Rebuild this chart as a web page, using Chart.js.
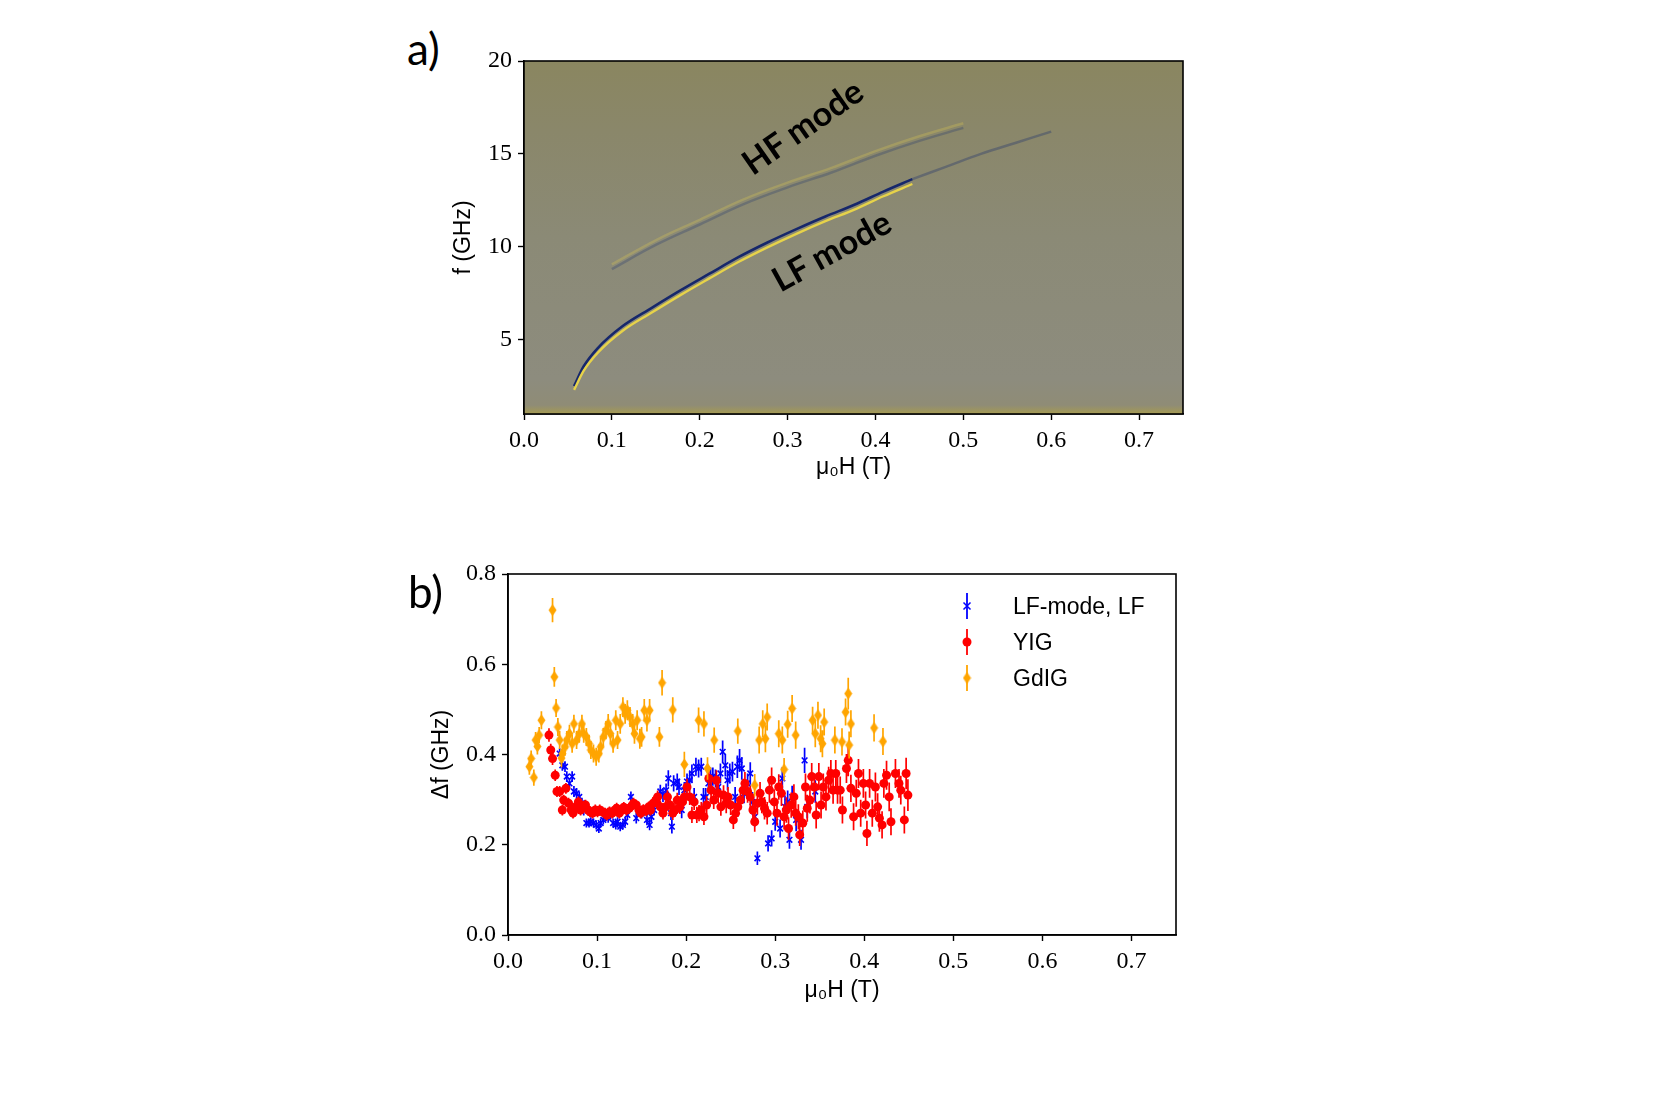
<!DOCTYPE html>
<html><head><meta charset="utf-8">
<script src="https://cdn.jsdelivr.net/npm/chart.js@4.4.1/dist/chart.umd.min.js"></script>
<style>
html,body{margin:0;padding:0;background:#fff;width:1666px;height:1094px;overflow:hidden;position:relative}
canvas{position:absolute}
.lbl{position:absolute;font-family:Lato,'Open Sans',sans-serif;color:#000;white-space:nowrap;line-height:1}
.rot{position:absolute;font-family:Lato,'Open Sans',sans-serif;font-weight:700;color:#000;white-space:nowrap;line-height:1}
.leg{position:absolute;font-family:'Liberation Sans',Arial,sans-serif;font-size:23px;line-height:1;color:#000;white-space:nowrap}
</style></head><body>
<canvas id="ca" width="750" height="451" style="left:450px;top:30px"></canvas>
<canvas id="cb" width="767" height="454" style="left:428px;top:550px"></canvas>
<div class="lbl" style="left:407px;top:26px;font-size:44px">a)</div>
<div class="lbl" style="left:408px;top:569px;font-size:44px">b)</div>
<div class="rot" style="left:802px;top:126px;font-size:34px;transform:translate(-50%,-50%) rotate(-35deg)">HF mode</div>
<div class="rot" style="left:831px;top:250px;font-size:34px;transform:translate(-50%,-50%) rotate(-29deg)">LF mode</div>
<div class="leg" style="left:1013px;top:595px">LF-mode, LF</div>
<div class="leg" style="left:1013px;top:631px">YIG</div>
<div class="leg" style="left:1013px;top:667px">GdIG</div>
<script>
const aXTicks = [0.0,0.1,0.2,0.3,0.4,0.5,0.6,0.7];
const aYTicks = [5,10,15,20];
const lfModeField = [0.057,0.068,0.084,0.112,0.145,0.178,0.211,0.244,0.277,0.310,0.343,0.376,0.409,0.442];
const lfModeFreq  = [2.5,3.57,4.55,5.72,6.70,7.65,8.55,9.44,10.23,10.95,11.63,12.26,12.97,13.64];
const lfEdgeFreq  = [2.3,3.33,4.3,5.47,6.45,7.4,8.3,9.18,9.97,10.7,11.38,12.0,12.72,13.38];
const lfTailField = [0.442,0.48,0.52,0.56,0.60];
const lfTailFreq  = [13.64,14.3,15.0,15.6,16.2];
const hfModeField = [0.10,0.15,0.20,0.25,0.30,0.35,0.40,0.45,0.50];
const hfModeFreq  = [8.8,10.1,11.2,12.3,13.2,14.0,14.9,15.7,16.4];
const hfEdgeFreq  = [9.05,10.35,11.45,12.55,13.45,14.25,15.15,15.95,16.65];

// ---------- Panel b data: [field (T), linewidth (GHz), error (GHz)] ----------
const bXTicks = [0.0,0.1,0.2,0.3,0.4,0.5,0.6,0.7];
const bYTicks = [0.0,0.2,0.4,0.6,0.8];
const lfModeLF = [
[0.058,0.402,0.012],[0.061,0.376,0.012],[0.064,0.373,0.012],[0.066,0.351,0.012],[0.069,0.336,0.012],[0.072,0.351,0.012],
[0.074,0.318,0.012],[0.077,0.314,0.012],[0.080,0.306,0.012],[0.083,0.292,0.012],[0.085,0.277,0.012],[0.088,0.248,0.01],
[0.091,0.248,0.01],[0.093,0.251,0.01],[0.096,0.248,0.01],[0.099,0.244,0.01],[0.102,0.236,0.01],[0.104,0.248,0.01],
[0.107,0.255,0.01],[0.110,0.262,0.01],[0.1125,0.259,0.01],[0.115,0.266,0.01],[0.118,0.248,0.01],[0.121,0.244,0.01],
[0.123,0.251,0.01],[0.126,0.240,0.01],[0.129,0.244,0.01],[0.1315,0.251,0.01],[0.134,0.266,0.01],[0.138,0.306,0.012],
[0.144,0.259,0.012],[0.150,0.270,0.012],[0.156,0.255,0.012],[0.159,0.244,0.012],[0.161,0.262,0.012],[0.164,0.277,0.012],
[0.168,0.299,0.015],[0.171,0.318,0.015],[0.174,0.310,0.015],[0.1775,0.321,0.015],[0.180,0.347,0.018],[0.183,0.270,0.015],
[0.184,0.240,0.015],[0.186,0.336,0.018],[0.190,0.340,0.018],[0.192,0.328,0.018],[0.195,0.277,0.018],[0.198,0.321,0.018],
[0.201,0.340,0.018],[0.204,0.343,0.018],[0.2065,0.358,0.02],[0.209,0.306,0.02],[0.211,0.373,0.02],[0.214,0.369,0.02],
[0.217,0.373,0.02],[0.2195,0.306,0.02],[0.222,0.306,0.02],[0.225,0.336,0.02],[0.2275,0.351,0.02],[0.230,0.351,0.02],
[0.233,0.347,0.02],[0.236,0.328,0.02],[0.2385,0.358,0.022],[0.241,0.406,0.025],[0.244,0.376,0.025],[0.2465,0.343,0.022],
[0.249,0.358,0.022],[0.252,0.362,0.022],[0.255,0.306,0.022],[0.2575,0.373,0.025],[0.260,0.387,0.025],[0.2625,0.369,0.025],
[0.265,0.314,0.022],[0.269,0.336,0.022],[0.272,0.358,0.025],[0.2745,0.295,0.022],[0.277,0.262,0.022],[0.280,0.170,0.015],
[0.292,0.203,0.018],[0.296,0.214,0.018],[0.300,0.251,0.02],[0.3055,0.236,0.02],[0.308,0.347,0.025],[0.311,0.284,0.025],
[0.314,0.295,0.025],[0.316,0.211,0.02],[0.319,0.306,0.025],[0.3235,0.255,0.025],[0.329,0.211,0.022],[0.333,0.387,0.028],
[0.336,0.284,0.025],[0.345,0.318,0.025]
];
const yig = [
[0.046,0.443,0.015],[0.048,0.410,0.014],[0.050,0.391,0.014],[0.053,0.354,0.013],[0.055,0.318,0.012],[0.058,0.318,0.012],
[0.061,0.277,0.012],[0.0625,0.299,0.012],[0.065,0.325,0.012],[0.068,0.292,0.012],[0.071,0.277,0.012],[0.073,0.270,0.012],
[0.076,0.284,0.012],[0.079,0.295,0.012],[0.0815,0.277,0.012],[0.084,0.284,0.012],[0.087,0.288,0.012],[0.090,0.277,0.012],
[0.092,0.273,0.012],[0.095,0.270,0.012],[0.098,0.277,0.012],[0.1005,0.273,0.012],[0.103,0.277,0.012],[0.106,0.273,0.012],
[0.109,0.270,0.012],[0.111,0.266,0.012],[0.114,0.273,0.012],[0.117,0.270,0.012],[0.120,0.277,0.012],[0.122,0.281,0.012],
[0.125,0.270,0.012],[0.128,0.277,0.012],[0.130,0.283,0.012],[0.133,0.277,0.012],[0.136,0.281,0.012],[0.139,0.286,0.012],
[0.141,0.292,0.012],[0.144,0.288,0.012],[0.147,0.277,0.012],[0.149,0.270,0.012],[0.152,0.278,0.012],[0.155,0.275,0.012],
[0.158,0.284,0.012],[0.160,0.277,0.012],[0.163,0.292,0.014],[0.166,0.299,0.014],[0.168,0.306,0.014],[0.171,0.284,0.014],
[0.174,0.270,0.014],[0.177,0.284,0.014],[0.179,0.306,0.015],[0.182,0.288,0.015],[0.185,0.270,0.015],[0.1875,0.277,0.015],
[0.190,0.299,0.016],[0.193,0.284,0.016],[0.196,0.295,0.016],[0.198,0.306,0.016],[0.201,0.328,0.018],[0.204,0.306,0.018],
[0.2065,0.266,0.018],[0.209,0.295,0.018],[0.212,0.266,0.018],[0.2145,0.270,0.018],[0.217,0.277,0.018],[0.220,0.262,0.018],
[0.223,0.288,0.02],[0.2255,0.347,0.022],[0.228,0.321,0.022],[0.231,0.299,0.02],[0.234,0.343,0.022],[0.236,0.314,0.022],
[0.239,0.284,0.02],[0.242,0.310,0.022],[0.245,0.292,0.022],[0.247,0.306,0.022],[0.250,0.288,0.022],[0.253,0.255,0.02],
[0.2555,0.270,0.022],[0.258,0.284,0.022],[0.261,0.299,0.022],[0.264,0.321,0.025],[0.266,0.336,0.025],[0.269,0.318,0.025],
[0.272,0.306,0.025],[0.275,0.277,0.025],[0.277,0.251,0.022],[0.280,0.292,0.025],[0.283,0.314,0.025],[0.285,0.295,0.025],
[0.288,0.281,0.025],[0.291,0.270,0.025],[0.2935,0.321,0.028],[0.296,0.343,0.028],[0.299,0.295,0.028],[0.302,0.270,0.028],
[0.304,0.328,0.028],[0.307,0.314,0.028],[0.310,0.262,0.028],[0.3125,0.277,0.028],[0.315,0.236,0.025],[0.318,0.288,0.028],
[0.321,0.306,0.028],[0.323,0.270,0.028],[0.326,0.262,0.028],[0.3275,0.222,0.025],[0.331,0.248,0.028],[0.334,0.328,0.03],
[0.336,0.281,0.03],[0.339,0.299,0.03],[0.341,0.351,0.03],[0.344,0.328,0.03],[0.346,0.266,0.03],[0.349,0.351,0.03],
[0.3515,0.288,0.03],[0.354,0.328,0.03],[0.357,0.306,0.03],[0.360,0.343,0.03],[0.3625,0.358,0.03],[0.365,0.321,0.03],
[0.368,0.358,0.03],[0.370,0.321,0.03],[0.373,0.321,0.03],[0.3755,0.277,0.03],[0.380,0.369,0.032],[0.382,0.387,0.035],
[0.385,0.325,0.03],[0.388,0.262,0.03],[0.391,0.314,0.03],[0.3935,0.358,0.032],[0.396,0.270,0.03],[0.399,0.336,0.032],
[0.4015,0.288,0.03],[0.403,0.225,0.028],[0.406,0.336,0.032],[0.409,0.270,0.03],[0.4125,0.328,0.032],[0.415,0.284,0.03],
[0.417,0.259,0.03],[0.420,0.244,0.03],[0.422,0.336,0.032],[0.425,0.354,0.032],[0.428,0.306,0.032],[0.430,0.251,0.03],
[0.435,0.358,0.032],[0.439,0.336,0.032],[0.441,0.321,0.032],[0.445,0.255,0.03],[0.447,0.358,0.035],[0.449,0.310,0.035]
];
const gdig = [
[0.024,0.373,0.018],[0.026,0.391,0.018],[0.029,0.349,0.018],[0.031,0.432,0.018],[0.033,0.418,0.018],[0.035,0.443,0.018],
[0.0375,0.476,0.02],[0.050,0.720,0.027],[0.052,0.572,0.022],[0.054,0.503,0.02],[0.056,0.461,0.02],[0.058,0.432,0.02],
[0.060,0.392,0.02],[0.061,0.402,0.02],[0.064,0.417,0.02],[0.066,0.432,0.02],[0.069,0.446,0.02],[0.072,0.424,0.02],
[0.074,0.468,0.02],[0.077,0.432,0.02],[0.080,0.446,0.02],[0.083,0.468,0.02],[0.085,0.446,0.02],[0.088,0.439,0.02],
[0.091,0.424,0.02],[0.093,0.410,0.02],[0.096,0.402,0.02],[0.099,0.395,0.02],[0.102,0.402,0.02],[0.104,0.417,0.02],
[0.107,0.439,0.02],[0.110,0.454,0.02],[0.1125,0.468,0.022],[0.115,0.446,0.02],[0.118,0.424,0.02],[0.121,0.476,0.022],
[0.123,0.432,0.02],[0.126,0.468,0.022],[0.129,0.505,0.022],[0.1315,0.490,0.022],[0.134,0.498,0.022],[0.137,0.483,0.022],
[0.140,0.468,0.022],[0.142,0.446,0.022],[0.145,0.476,0.022],[0.148,0.435,0.022],[0.150,0.439,0.022],[0.153,0.498,0.025],
[0.156,0.476,0.025],[0.159,0.498,0.025],[0.170,0.439,0.022],[0.173,0.559,0.028],[0.185,0.499,0.028],[0.198,0.378,0.028],
[0.214,0.476,0.028],[0.220,0.468,0.028],[0.224,0.369,0.025],[0.2315,0.432,0.028],[0.258,0.452,0.028],[0.277,0.332,0.025],
[0.282,0.432,0.03],[0.286,0.468,0.03],[0.289,0.435,0.03],[0.291,0.483,0.03],[0.304,0.446,0.03],[0.308,0.432,0.03],
[0.310,0.367,0.025],[0.314,0.467,0.03],[0.319,0.502,0.03],[0.323,0.443,0.03],[0.342,0.476,0.03],[0.345,0.446,0.03],
[0.348,0.487,0.03],[0.351,0.435,0.03],[0.353,0.424,0.03],[0.355,0.472,0.03],[0.367,0.432,0.03],[0.375,0.428,0.03],
[0.379,0.494,0.03],[0.382,0.535,0.035],[0.383,0.421,0.03],[0.385,0.468,0.03],[0.411,0.459,0.03],[0.421,0.429,0.03]
];
const seriesNames = ['LF-mode, LF','YIG','GdIG'];
const seriesColors = ['#0000ff','#ff0000','#ffa500'];

// ---------- shared helpers ----------
const tickFont = {family:"'Liberation Serif','DejaVu Serif',serif", size:24};
const titleFont = {family:"'Liberation Sans',Arial,sans-serif", size:23};
function fixedTicks(vals){ return s => { s.ticks = vals.map(v => ({value:v})); }; }

const frame = {
  id:'frame',
  afterDatasetsDraw(chart){
    const a = chart.chartArea, ctx = chart.ctx;
    ctx.save(); ctx.strokeStyle='#000'; ctx.lineWidth=1.6;
    ctx.strokeRect(a.left, a.top, a.right-a.left, a.bottom-a.top);
    ctx.restore();
  }
};
const mapBackground = {
  id:'mapBackground',
  beforeDatasetsDraw(chart){
    const a = chart.chartArea, ctx = chart.ctx;
    const g = ctx.createLinearGradient(0, a.top, 0, a.bottom);
    g.addColorStop(0, '#8a8660');
    g.addColorStop(0.2, '#8a876a');
    g.addColorStop(0.5, '#8b8a76');
    g.addColorStop(0.9, '#8d8c7e');
    g.addColorStop(0.975, '#8f8c76');
    g.addColorStop(1, '#a69b52');
    ctx.save(); ctx.fillStyle = g;
    ctx.fillRect(a.left, a.top, a.right-a.left, a.bottom-a.top);
    ctx.restore();
  }
};
const errorBars = {
  id:'errorBars',
  beforeDatasetDraw(chart, args){
    const ds = chart.data.datasets[args.index];
    if(!ds.errors) return;
    const xs = chart.scales.x, ys = chart.scales.y, ctx = chart.ctx;
    ctx.save(); ctx.strokeStyle = ds.errColor; ctx.lineWidth = 1.7;
    ctx.beginPath();
    ds.data.forEach((p,i) => {
      const e = ds.errors[i], px = xs.getPixelForValue(p.x);
      ctx.moveTo(px, ys.getPixelForValue(p.y - e));
      ctx.lineTo(px, ys.getPixelForValue(p.y + e));
    });
    ctx.stroke(); ctx.restore();
  }
};
// thin diamond marker ('d')
const diamond = document.createElement('canvas');
diamond.width = 9; diamond.height = 13;
(function(){ const c = diamond.getContext('2d'); c.fillStyle = '#ffa500';
  c.beginPath(); c.moveTo(4.5,0.5); c.lineTo(8.5,6.5); c.lineTo(4.5,12.5); c.lineTo(0.5,6.5); c.closePath(); c.fill(); })();

const legendMarks = {
  id:'legendMarks',
  afterDraw(chart){
    const a = chart.chartArea, ctx = chart.ctx;
    const x = a.left + 459;
    const rows = [a.top + 32, a.top + 68, a.top + 104];
    ctx.save();
    rows.forEach((y,i) => {
      ctx.strokeStyle = seriesColors[i]; ctx.lineWidth = 1.8;
      ctx.beginPath(); ctx.moveTo(x, y-13); ctx.lineTo(x, y+13); ctx.stroke();
      if(i === 0){ ctx.lineWidth=1.5; ctx.beginPath(); ctx.moveTo(x-3.5,y-3.5); ctx.lineTo(x+3.5,y+3.5); ctx.moveTo(x+3.5,y-3.5); ctx.lineTo(x-3.5,y+3.5); ctx.stroke(); }
      if(i === 1){ ctx.fillStyle = seriesColors[1]; ctx.beginPath(); ctx.arc(x, y, 4.5, 0, Math.PI*2); ctx.fill(); }
      if(i === 2){ ctx.drawImage(diamond, x-4.5, y-6.5); }
    });
    ctx.restore();
  }
};

function axisCommon(tickVals, decimals, titleText, fitSize, horizontal){
  return {
    type:'linear',
    ticks:{font:tickFont, color:'#000', padding:6, autoSkip:false, maxRotation:0,
      callback:v => Number(v).toFixed(decimals)},
    grid:{display:true, drawOnChartArea:false, drawTicks:true, tickLength:6, tickWidth:1.4, color:'#000'},
    border:{display:true, color:'#000', width:1.6},
    title:{display:true, text:titleText, font:titleFont, color:'#000', padding:0},
    afterBuildTicks: fixedTicks(tickVals),
    afterFit: s => { if(horizontal) s.height = fitSize; else s.width = fitSize; }
  };
}

// ---------- Panel a ----------
const pts = (xs, ys) => xs.map((x,i) => ({x:x, y:ys[i]}));
new Chart(document.getElementById('ca'), {
  type:'scatter',
  data:{datasets:[
    {data:pts(hfModeField, hfEdgeFreq), showLine:true, pointRadius:0, borderColor:'rgba(225,205,80,0.28)', borderWidth:2.5, tension:0.4},
    {data:pts(hfModeField, hfModeFreq), showLine:true, pointRadius:0, borderColor:'rgba(30,50,110,0.28)', borderWidth:2.5, tension:0.4},
    {data:pts(lfTailField, lfTailFreq), showLine:true, pointRadius:0, borderColor:'rgba(30,50,110,0.35)', borderWidth:2.5, tension:0.4},
    {data:pts(lfModeField, lfEdgeFreq), showLine:true, pointRadius:0, borderColor:'#e6d24a', borderWidth:2.4, cubicInterpolationMode:'monotone'},
    {data:pts(lfModeField, lfModeFreq), showLine:true, pointRadius:0, borderColor:'#16276b', borderWidth:2.6, cubicInterpolationMode:'monotone'}
  ]},
  options:{
    responsive:false, animation:false, devicePixelRatio:1,
    layout:{padding:{top:31, right:17, left:0, bottom:0}},
    plugins:{legend:{display:false}, tooltip:{enabled:false}},
    scales:{
      x:Object.assign(axisCommon(aXTicks, 1, 'μ₀H (T)', 67, true), {min:0, max:0.75}),
      y:Object.assign(axisCommon(aYTicks, 0, 'f (GHz)', 74, false), {min:1, max:20})
    }
  },
  plugins:[mapBackground, frame]
});

// ---------- Panel b ----------
const toXY = arr => arr.map(p => ({x:p[0], y:p[1]}));
const toErr = arr => arr.map(p => p[2]);
new Chart(document.getElementById('cb'), {
  type:'scatter',
  data:{datasets:[
    {label:seriesNames[0], data:toXY(lfModeLF), errors:toErr(lfModeLF), errColor:seriesColors[0], order:3,
     pointStyle:'crossRot', pointRadius:4, borderColor:seriesColors[0], borderWidth:1.6, backgroundColor:seriesColors[0]},
    {label:seriesNames[1], data:toXY(yig), errors:toErr(yig), errColor:seriesColors[1], order:2,
     pointStyle:'circle', pointRadius:4.5, borderWidth:0, backgroundColor:seriesColors[1], borderColor:seriesColors[1]},
    {label:seriesNames[2], data:toXY(gdig), errors:toErr(gdig), errColor:seriesColors[2], order:1,
     pointStyle:diamond, pointRadius:5, borderWidth:0, backgroundColor:seriesColors[2]}
  ]},
  options:{
    responsive:false, animation:false, devicePixelRatio:1,
    layout:{padding:{top:24, right:19, left:0, bottom:0}},
    plugins:{legend:{display:false}, tooltip:{enabled:false}},
    scales:{
      x:Object.assign(axisCommon(bXTicks, 1, 'μ₀H (T)', 69, true), {min:0, max:0.75}),
      y:Object.assign(axisCommon(bYTicks, 1, 'Δf (GHz)', 80, false), {min:0, max:0.8})
    }
  },
  plugins:[errorBars, frame, legendMarks]
});
</script>
</body></html>
